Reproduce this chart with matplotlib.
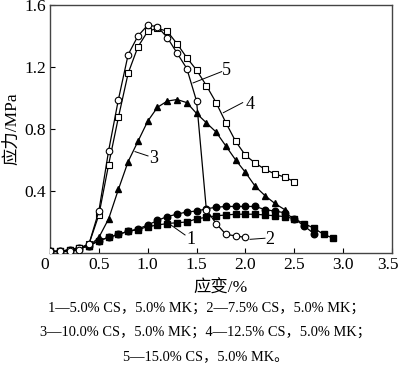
import matplotlib
matplotlib.use("Agg")
import matplotlib.pyplot as plt
import matplotlib.transforms as mtransforms

plt.rcParams['font.family'] = ['Liberation Serif', 'Noto Sans CJK SC']

# 1 - filled squares
x1 = [0.0, 0.1, 0.2, 0.3, 0.4, 0.5, 0.6, 0.7, 0.8, 0.9, 1.0, 1.1, 1.2, 1.3, 1.4, 1.5,
      1.6, 1.7, 1.8, 1.9, 2.0, 2.1, 2.2, 2.3, 2.4, 2.5, 2.6, 2.7, 2.8, 2.9]
y1 = [0.01, 0.01, 0.02, 0.035, 0.045, 0.08, 0.10, 0.12, 0.14, 0.15, 0.17, 0.18, 0.19, 0.195, 0.20, 0.22,
      0.23, 0.24, 0.245, 0.25, 0.25, 0.25, 0.245, 0.24, 0.235, 0.22, 0.19, 0.16, 0.12, 0.095]

# filled circles
x6 = [0.0, 0.1, 0.2, 0.3, 0.4, 0.5, 0.6, 0.7, 0.8, 0.9, 1.0, 1.1, 1.2, 1.3, 1.4, 1.5,
      1.6, 1.7, 1.8, 1.9, 2.0, 2.1, 2.2, 2.3, 2.4, 2.5, 2.6, 2.7]
y6 = [0.01, 0.01, 0.02, 0.03, 0.045, 0.08, 0.10, 0.12, 0.14, 0.155, 0.18, 0.21, 0.235, 0.25, 0.265, 0.27,
      0.285, 0.295, 0.30, 0.30, 0.30, 0.30, 0.28, 0.27, 0.26, 0.22, 0.175, 0.125]

# 2 - open circles
x2 = [0.0, 0.1, 0.2, 0.3, 0.4, 0.5, 0.6, 0.7, 0.8, 0.9, 1.0, 1.1, 1.2, 1.3, 1.4, 1.5,
      1.6, 1.7, 1.8, 1.9, 2.0]
y2 = [0.01, 0.01, 0.01, 0.02, 0.06, 0.27, 0.66, 0.99, 1.28, 1.40, 1.47, 1.46, 1.39, 1.29, 1.19, 0.98,
      0.28, 0.19, 0.12, 0.11, 0.10]

# 3 - filled triangles
x3 = [0.0, 0.1, 0.2, 0.3, 0.4, 0.5, 0.6, 0.7, 0.8, 0.9, 1.0, 1.1, 1.2, 1.3, 1.4, 1.5,
      1.6, 1.7, 1.8, 1.9, 2.0, 2.1, 2.2, 2.3, 2.4]
y3 = [0.01, 0.01, 0.02, 0.03, 0.045, 0.10, 0.22, 0.41, 0.59, 0.72, 0.85, 0.94, 0.98, 0.99, 0.97, 0.90,
      0.84, 0.78, 0.69, 0.60, 0.52, 0.43, 0.37, 0.32, 0.28]

# 4 - open squares
x4 = [0.0, 0.1, 0.2, 0.3, 0.4, 0.5, 0.6, 0.7, 0.8, 0.9, 1.0, 1.1, 1.2, 1.3, 1.4, 1.5,
      1.6, 1.7, 1.8, 1.9, 2.0, 2.1, 2.2, 2.3, 2.4, 2.5]
y4 = [0.01, 0.01, 0.02, 0.03, 0.06, 0.245, 0.57, 0.875, 1.16, 1.33, 1.43, 1.45, 1.43, 1.35, 1.26, 1.18,
      1.08, 0.97, 0.84, 0.72, 0.63, 0.58, 0.54, 0.51, 0.49, 0.46]

xticks = [0, 0.5, 1.0, 1.5, 2.0, 2.5, 3.0, 3.5]
xticklabels = ['0', '0.5', '1.0', '1.5', '2.0', '2.5', '3.0', '3.5']
yticks = [0.4, 0.8, 1.2, 1.6]
yticklabels = ['0.4', '0.8', '1.2', '1.6']

fig = plt.figure(figsize=(4.0, 3.72), dpi=100)
ax = fig.add_axes([0.125, 0.32, 0.855, 0.6666])

lw = 0.9
ms = 4.7
ax.plot(x1, y1, '-s', color='black', mfc='black', mec='black', lw=lw, ms=ms, zorder=3)
ax.plot(x6, y6, '-o', color='black', mfc='black', mec='black', lw=lw, ms=ms, zorder=3)
ax.plot(x3, y3, '-^', color='black', mfc='black', mec='black', lw=lw, ms=ms, zorder=3)
ax.plot(x4, y4, '-s', color='black', mfc='white', mec='black', lw=lw, ms=ms, mew=0.8, zorder=4)
ax.plot(x2, y2, '-o', color='black', mfc='white', mec='black', lw=lw, ms=ms, mew=0.8, zorder=5)

# curve labels with leader lines
labels = [('5', (1.464, 1.097), (1.757, 1.170), (1.81, 1.176)),
          ('4', (1.774, 0.905), (1.972, 0.970), (2.05, 0.961)),
          ('3', (0.870, 0.654), (1.003, 0.626), (1.06, 0.611)),
          ('1', (1.211, 0.192), (1.382, 0.116), (1.44, 0.088)),
          ('2', (2.047, 0.088), (2.200, 0.095), (2.25, 0.088))]
for t, p0, p1, pt in labels:
    ax.plot([p0[0], p1[0]], [p0[1], p1[1]], color='black', lw=0.7, zorder=2)
    ax.text(pt[0], pt[1], t, fontsize=13, ha='center', va='center')

ax.set_xlim(0, 3.5)
ax.set_ylim(0, 1.6)
ax.set_xticks(xticks)
ax.set_xticklabels(xticklabels)
ax.set_yticks(yticks)
ax.set_yticklabels(yticklabels)
ax.tick_params(direction='in', length=3.5, width=0.8, labelsize=12.5, pad=3,
               top=False, right=False)
for s in ax.spines.values():
    s.set_color('#444444')
    s.set_linewidth(1.0)

# nudge first and last x tick labels like the reference
xl = ax.get_xticklabels()
xl[0].set_transform(xl[0].get_transform() + mtransforms.ScaledTranslation(-5 / 100, 0, fig.dpi_scale_trans))
xl[-1].set_transform(xl[-1].get_transform() + mtransforms.ScaledTranslation(-4 / 100, 0, fig.dpi_scale_trans))

ax.set_xlabel('应变/%', fontsize=12.5, labelpad=5)
ax.set_ylabel('应力/MPa', fontsize=12.5, labelpad=3)

caption = ['1—5.0% CS，5.0% MK；2—7.5% CS，5.0% MK；',
           '3—10.0% CS，5.0% MK；4—12.5% CS，5.0% MK；',
           '5—15.0% CS，5.0% MK。']
for i, line in enumerate(caption):
    fig.text(0.515, 1 - (308 + 24.5 * i) / 372, line, fontsize=10.4,
             ha='center', va='center')

fig.savefig('out.png', dpi=100)
